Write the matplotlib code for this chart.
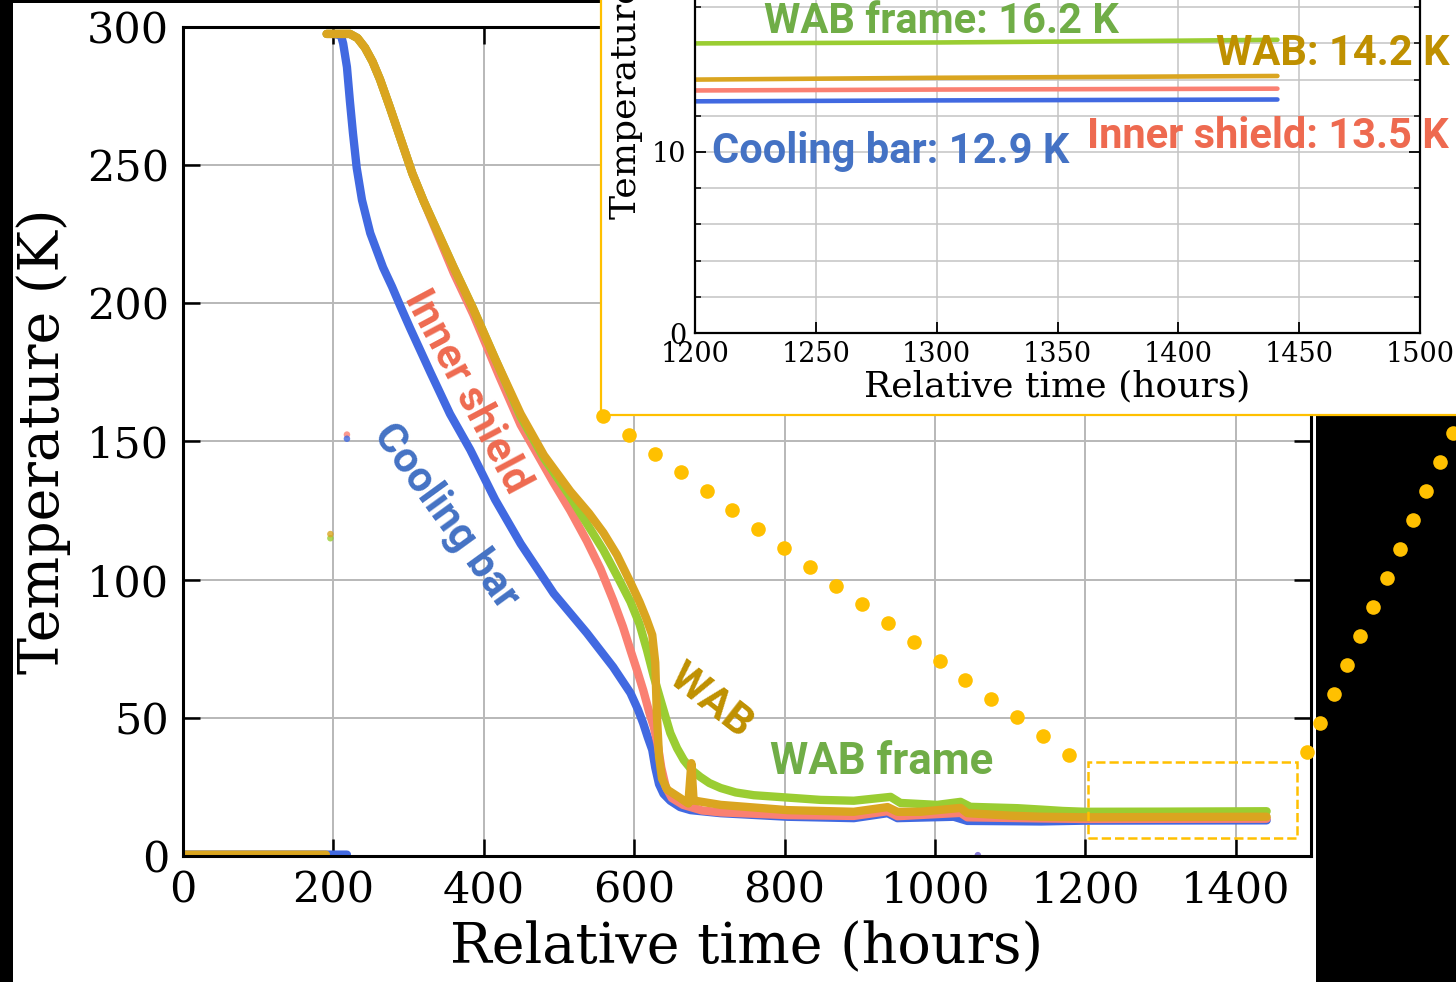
import numpy as np
import matplotlib
matplotlib.use('Agg')
import matplotlib.pyplot as plt
from matplotlib.patches import Rectangle
from matplotlib.lines import Line2D
from matplotlib.ticker import MultipleLocator

plt.rcParams['font.family'] = ['DejaVu Serif']
nan = np.nan

# Cooldown data (hours, K); nan splits the pre-cooldown stretch at 0 K
bar_t = [0, 218, nan, 200, 210, 213, 218, 222, 226, 231, 238, 249, 266, 278, 289, 302, 329, 355, 382, 415, 449,
         493, 537, 572, 595, 605, 612, 618, 624, 628, 633, 639, 648, 661, 675, 715, 804, 892, 937, 950, 1025,
         1043, 1141, 1200, 1300, 1441]
bar_T = [0.5, 0.5, nan, 297.5, 297, 294, 285.5, 273, 261.6, 249, 237.4, 225.4, 213, 206, 199, 191, 175, 160, 147, 129, 113,
         95, 80.7, 68.4, 59, 53, 48, 43, 38.4, 32, 26, 22.5, 20, 17.7, 16.6, 15.5, 14.2, 13.7, 15.5, 13.7, 14.2,
         12.7, 12.5, 12.8, 12.85, 12.9]

shield_t = [191, 222, 232, 242, 252, 262, 275, 290, 305, 320, 340, 360, 386, 420, 449, 470, 493, 515, 537, 555, 572,
            585, 595, 604, 612, 620, 626, 631, 636, 642, 650, 665, 690, 715, 804, 892, 937, 950, 1034, 1043, 1141,
            1200, 1300, 1441]
shield_T = [297.5, 297.5, 296, 292.5, 287.5, 281, 271, 259, 247, 237, 224, 211, 196, 174, 156, 146, 135, 125, 114, 104, 92.6,
            83, 74.5, 67, 60, 52, 46.8, 40.8, 32, 25, 21, 18.5, 16.5, 15.8, 14.8, 14.5, 16.2, 14.4, 15.6, 14.0, 13.6,
            13.4, 13.45, 13.5]

frame_t = [191, 222, 232, 242, 252, 262, 275, 290, 305, 320, 340, 360, 386, 415, 449, 480, 515, 540, 559, 577, 595,
           607, 617, 626, 635, 648, 657, 666, 677, 688, 700, 715, 735, 759, 848, 892, 941, 954, 1003, 1034, 1047,
           1110, 1141, 1170, 1200, 1300, 1400, 1441]
frame_T = [297.5, 297.5, 296, 292.5, 287.5, 281, 271, 259, 247, 237, 225, 213, 198, 180, 159, 144, 130, 119, 110.7, 101.5, 92,
           84, 74.5, 65, 56.5, 44.5, 39, 34.7, 31, 28.6, 26.4, 24.6, 23, 22, 20.3, 20, 21.4, 19.2, 18.5, 19.6, 17.8,
           17.3, 16.8, 16.3, 16.0, 16.05, 16.15, 16.2]

wab_t = [0, 190, nan, 191, 222, 232, 242, 252, 262, 275, 290, 305, 320, 340, 360, 386, 415, 449, 480, 515, 540, 559,
         577, 595, 607, 616, 624, 628, 630, 633, 637, 644, 661, 672, 676, 679, 681, 715, 804, 892, 937, 950, 981,
         1034, 1043, 1100, 1141, 1200, 1300, 1441]
wab_T = [0.5, 0.5, nan, 297.5, 297.5, 296, 292.5, 287.5, 281, 271, 259, 247, 237, 225, 213, 198, 180, 160, 145, 132, 124, 117,
         109, 99, 92, 86, 80, 70, 52, 36, 28, 24, 21, 19, 33.6, 20, 20, 18.5, 16.6, 16, 17.7, 16, 16,
         17.4, 15.5, 14.6, 14.2, 14.0, 14.1, 14.2]

# stray single readings
stray_t = [196, 196, 218, 218, 1057]
stray_T = [115, 116.5, 152.5, 151, 0.3]

c_bar, c_shield, c_frame, c_wab = '#4169E1', '#FA8072', '#9ACD32', '#DAA520'
stray_c = [c_frame, c_wab, c_shield, c_bar, '#6a5acd']
txt_bar, txt_shield, txt_frame, txt_wab = '#4472C4', '#EE6A50', '#70AD47', '#BF9000'
dot_c = '#FFC000'
label_font = ['Roboto', 'DejaVu Sans']

W, H = 1456, 982
fig = plt.figure(figsize=(W / 100, H / 100), dpi=100, facecolor='white')

def fpt(x, y):
    return x / W, 1 - y / H

# black borders of the composite
for (x0, y0, x1, y1) in [(0, 0, 13, H), (0, 0, 601, 3), (1316, 415, W, H)]:
    fig.add_artist(Rectangle(fpt(x0, y1), (x1 - x0) / W, (y1 - y0) / H, transform=fig.transFigure,
                             facecolor='black', edgecolor='none', zorder=-1))

# ---------------- main axes ----------------
ax = fig.add_axes([183 / W, 1 - 856 / H, (1311 - 183) / W, (856 - 27) / H])
ax.set_zorder(0)
for t, T, c in [(bar_t, bar_T, c_bar), (shield_t, shield_T, c_shield), (frame_t, frame_T, c_frame), (wab_t, wab_T, c_wab)]:
    ax.plot(t, T, color=c, lw=6, solid_capstyle='round', solid_joinstyle='round', zorder=2)
ax.scatter(stray_t, stray_T, s=22, c=stray_c, zorder=2, alpha=0.8, linewidths=0)

ax.set_xlim(0, 1500)
ax.set_ylim(0, 300)
ax.set_xticks(np.arange(0, 1401, 200))
ax.set_yticks(np.arange(0, 301, 50))
ax.grid(True, color='#b8b8b8', lw=1.4)
ax.set_axisbelow(True)
ax.tick_params(direction='in', length=12, width=1.8, top=True, right=True, labelsize=31, pad=10)
for s in ax.spines.values():
    s.set_linewidth(2.2)
ax.set_xlabel('Relative time (hours)', fontsize=40, labelpad=6)
ax.set_ylabel('Temperature (K)', fontsize=40)
ax.yaxis.set_label_coords(-0.099, 0.5)

ax.add_patch(Rectangle((1203, 6.5), 278, 27.5, fill=False, ls='--', ec=dot_c, lw=1.8, zorder=3))

kw = dict(family=label_font, weight='bold', ha='center', va='center', rotation_mode='anchor', zorder=4)
ax.text(378, 168, 'Inner shield', color=txt_shield, fontsize=30.5, rotation=-62, **kw)
ax.text(349, 123, 'Cooling bar', color=txt_bar, fontsize=30.5, rotation=-54, **kw)
ax.text(702, 56, 'WAB', color=txt_wab, fontsize=31, rotation=-38, **kw)
ax.text(929, 34, 'WAB frame', color=txt_frame, fontsize=31.5, rotation=0, **kw)

# ---------------- inset ----------------
fig.add_artist(Rectangle(fpt(601, 415), (1480 - 601) / W, (415 + 20) / H, transform=fig.transFigure,
                         facecolor='white', edgecolor=dot_c, lw=1.6, zorder=1))

ax_in = fig.add_axes([695 / W, 1 - 333 / H, (1420 - 695) / W, 543 / H])
ax_in.set_zorder(2)
for t, T, c in [(bar_t, bar_T, c_bar), (shield_t, shield_T, c_shield), (frame_t, frame_T, c_frame), (wab_t, wab_T, c_wab)]:
    ax_in.plot(t, T, color=c, lw=3.3, solid_capstyle='round', zorder=2)
ax_in.set_xlim(1200, 1500)
ax_in.set_ylim(0, 30)
ax_in.xaxis.set_major_locator(MultipleLocator(50))
ax_in.yaxis.set_major_locator(MultipleLocator(10))
ax_in.yaxis.set_minor_locator(MultipleLocator(2))
ax_in.grid(True, which='both', color='#c4c4c4', lw=1.1)
ax_in.set_axisbelow(True)
ax_in.tick_params(which='major', direction='in', length=8, width=1.3, top=True, right=True, labelsize=19.5, pad=6)
ax_in.tick_params(which='minor', direction='in', length=4, width=1.1, left=True, right=True)
for s in ax_in.spines.values():
    s.set_linewidth(1.6)
ax_in.set_xlabel('Relative time (hours)', fontsize=26, labelpad=1)
ax_in.set_ylabel('Temperature (K)', fontsize=26)
ax_in.yaxis.set_label_coords(-0.072, 0.49)

kw_in = dict(family=label_font, weight='bold', ha='center', va='baseline', clip_on=False, fontsize=30, zorder=4)
ax_in.text(1302, 16.6, 'WAB frame: 16.2 K', color=txt_frame, **kw_in)
ax_in.text(1464, 14.8, 'WAB: 14.2 K', color=txt_wab, **kw_in)
ax_in.text(1437, 10.2, 'Inner shield: 13.5 K', color=txt_shield, **kw_in)
ax_in.text(1281, 9.4, 'Cooling bar: 12.9 K', color=txt_bar, **kw_in)

# dotted zoom connectors (figure pixels)
for (x0, y0), (x1, y1), n in [((603, 416), (1069, 755), 19), ((1453, 433), (1307, 752), 12)]:
    xs = np.linspace(x0, x1, n) / W
    ys = 1 - np.linspace(y0, y1, n) / H
    fig.add_artist(Line2D(xs, ys, transform=fig.transFigure, ls='none', marker='o', ms=10.5,
                          mfc=dot_c, mec='none', zorder=5))

fig.savefig('out.png', dpi=100)
